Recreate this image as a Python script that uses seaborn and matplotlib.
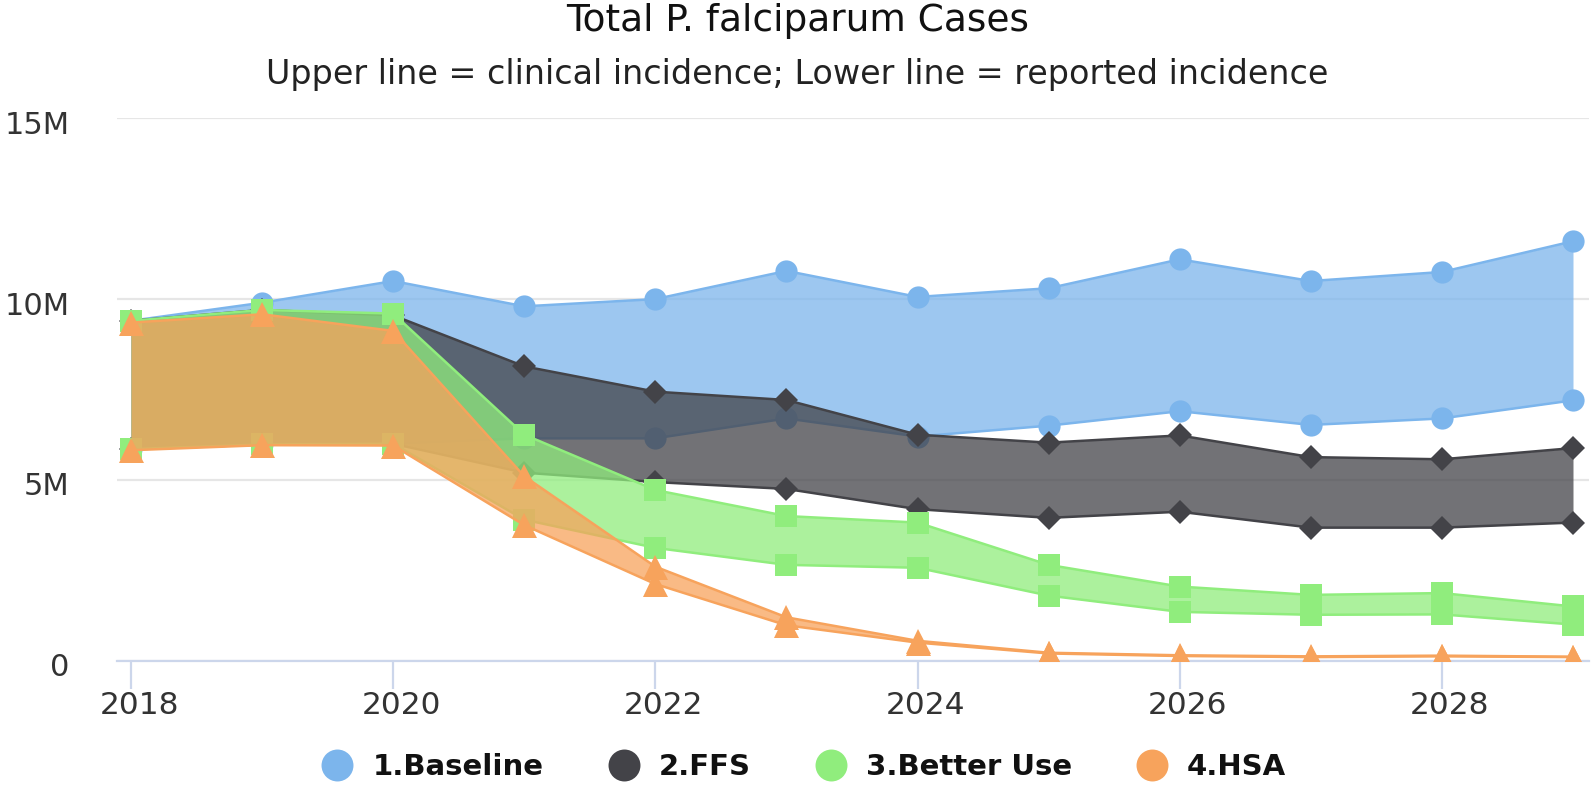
import numpy as np
import pandas as pd
import matplotlib
matplotlib.use("Agg")
import matplotlib.pyplot as plt
import seaborn as sns
from matplotlib.lines import Line2D
from matplotlib.transforms import ScaledTranslation

# ---------------- data (millions of cases) ----------------
years = [2018, 2019, 2020, 2021, 2022, 2023, 2024, 2025, 2026, 2027, 2028, 2029]

baseline_upper = [9.40, 9.90, 10.50, 9.80, 10.00, 10.78, 10.06, 10.30, 11.10, 10.50, 10.75, 11.60]
baseline_lower = [5.85, 5.98, 6.00, 6.15, 6.15, 6.70, 6.20, 6.50, 6.90, 6.52, 6.70, 7.20]

ffs_upper = [9.40, 9.70, 9.55, 8.14, 7.44, 7.21, 6.25, 6.03, 6.23, 5.63, 5.57, 5.88]
ffs_lower = [5.85, 5.98, 6.00, 5.20, 4.94, 4.75, 4.19, 3.95, 4.12, 3.68, 3.68, 3.82]

better_upper = [9.40, 9.70, 9.60, 6.25, 4.72, 4.00, 3.82, 2.65, 2.05, 1.82, 1.87, 1.50]
better_lower = [5.85, 5.98, 6.00, 3.90, 3.12, 2.65, 2.57, 1.80, 1.35, 1.27, 1.28, 1.00]

hsa_upper = [9.35, 9.58, 9.12, 5.10, 2.60, 1.20, 0.55, 0.22, 0.15, 0.12, 0.14, 0.11]
hsa_lower = [5.82, 5.96, 5.95, 3.75, 2.12, 0.98, 0.50, 0.20, 0.13, 0.10, 0.12, 0.10]

series_names = ["1.Baseline", "2.FFS", "3.Better Use", "4.HSA"]
colors = ["#7cb5ec", "#434348", "#90ed7d", "#f7a35c"]
markers = ["o", "D", "s", "^"]
msizes = [16, 12.5, 16.5, 18]

title = "Total P. falciparum Cases"
subtitle = "Upper line = clinical incidence; Lower line = reported incidence"
ytick_vals = [0, 5, 10, 15]
ytick_labels = ["0", "5M", "10M", "15M"]
xtick_vals = [2018, 2020, 2022, 2024, 2026, 2028]

# ---------------- figure ----------------
sns.set_theme(style="white")
plt.rcParams["font.family"] = ["DejaVu Sans"]

W, H, DPI = 1595, 787, 100
fig = plt.figure(figsize=(W / DPI, H / DPI), dpi=DPI)
left_px, right_px, top_px, bottom_px = 117, 1589, 118.3, 660.7
ax = fig.add_axes([left_px / W, 1 - bottom_px / H,
                   (right_px - left_px) / W, (bottom_px - top_px) / H])

uppers = [baseline_upper, ffs_upper, better_upper, hsa_upper]
lowers = [baseline_lower, ffs_lower, better_lower, hsa_lower]

frames = []
for name, up, lo in zip(series_names, uppers, lowers):
    frames.append(pd.DataFrame({"year": years, "value": up, "series": name, "bound": "upper"}))
    frames.append(pd.DataFrame({"year": years, "value": lo, "series": name, "bound": "lower"}))
df = pd.concat(frames, ignore_index=True)

for i, name in enumerate(series_names):
    z = 3 + i * 3
    sub = df[df["series"] == name]
    up = sub[sub["bound"] == "upper"]
    lo = sub[sub["bound"] == "lower"]
    ax.fill_between(up["year"].values, lo["value"].values, up["value"].values,
                    color=colors[i], alpha=0.75, linewidth=0, zorder=z)
    for part in (up, lo):
        sns.lineplot(data=part, x="year", y="value", ax=ax, color=colors[i],
                     linewidth=1.8, marker=markers[i], markersize=msizes[i],
                     markeredgewidth=0, markerfacecolor=colors[i],
                     zorder=z + 1, legend=False, errorbar=None)

ax.set_xlim(2018 - 14 / 131.07, 2029 + 16 / 131.07)
ax.set_ylim(0, 15)
ax.set_xlabel("")
ax.set_ylabel("")

ax.set_yticks(ytick_vals)
ax.set_yticklabels(ytick_labels)
ax.set_xticks(xtick_vals)
ax.set_xticklabels([str(v) for v in xtick_vals])

ax.grid(axis="y", color="#e6e6e6", linewidth=1.6)
ax.grid(axis="x", visible=False)
ax.set_axisbelow(True)
for s in ["top", "right", "left"]:
    ax.spines[s].set_visible(False)
ax.spines["bottom"].set_color("#ccd6eb")
ax.spines["bottom"].set_linewidth(1.6)
ax.spines["bottom"].set_zorder(2)

ax.tick_params(axis="y", left=False, length=0, pad=34, labelsize=22, labelcolor="#333333")
ax.tick_params(axis="x", bottom=True, length=20, width=1.6, color="#ccd6eb", direction="out",
               pad=2, labelsize=22.5, labelcolor="#333333")
for lab in ax.get_xticklabels():
    lab.set_transform(lab.get_transform() + ScaledTranslation(8 / DPI, 0, fig.dpi_scale_trans))
for lab in ax.get_yticklabels():
    lab.set_transform(lab.get_transform() + ScaledTranslation(0, -4 / DPI, fig.dpi_scale_trans))

fig.text(0.5, 1 - 31 / H, title, ha="center", va="baseline", fontsize=27, color="#111111")
fig.text(0.5, 1 - 84 / H, subtitle, ha="center", va="baseline", fontsize=24, color="#222222")

handles = [Line2D([], [], linestyle="none", marker="o", markersize=23,
                  markerfacecolor=c, markeredgewidth=0) for c in colors]
leg = fig.legend(handles, series_names, loc="center", bbox_to_anchor=(803 / W, 1 - 767 / H),
                 ncol=4, frameon=False, handletextpad=0.6, columnspacing=2.15,
                 prop={"weight": "bold", "size": 21}, handlelength=1.2)
for t in leg.get_texts():
    t.set_color("#111111")

fig.savefig("out.png", dpi=DPI)
